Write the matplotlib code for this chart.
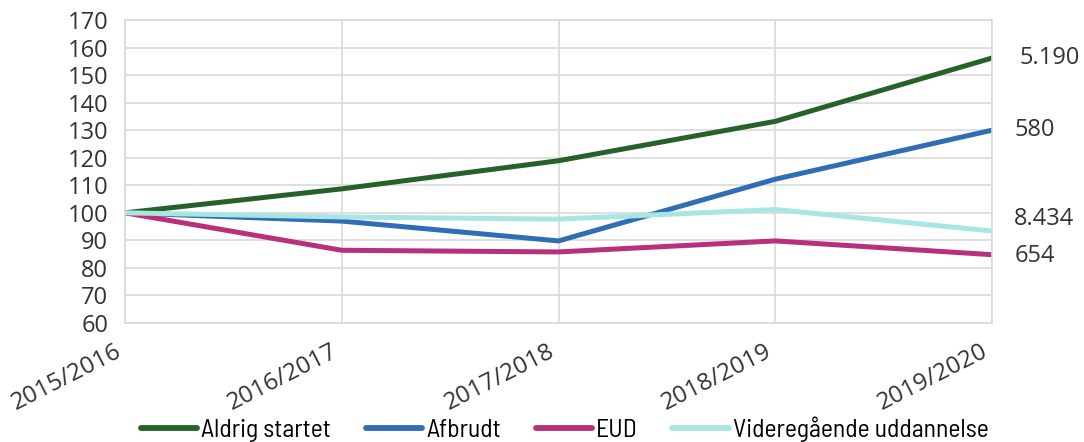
import matplotlib.pyplot as plt
from matplotlib.transforms import ScaledTranslation

years = ["2015/2016", "2016/2017", "2017/2018", "2018/2019", "2019/2020"]

aldrig = [100, 108.7, 118.9, 133.2, 156.2]
afbrudt = [100, 97.0, 89.8, 112.2, 130.0]
eud = [100, 86.4, 85.8, 89.8, 84.8]
videre = [100, 98.5, 97.7, 101.2, 93.4]

series = [
    ("Aldrig startet", aldrig, "#256227", "5.190"),
    ("Afbrudt", afbrudt, "#2F6DB5", "580"),
    ("EUD", eud, "#B8307A", "654"),
    ("Videregående uddannelse", videre, "#A9E5E3", "8.434"),
]
# offsets (points) for the end-of-line totals
end_off = {"5.190": (20, 0), "580": (16.5, 0), "654": (16, -0.8), "8.434": (16, 8.6)}

narrow = ["Barlow Semi Condensed", "DejaVu Sans"]
plain = ["Open Sans", "DejaVu Sans"]

fig = plt.figure(figsize=(10.84, 4.42), dpi=100)
ax = fig.add_axes([125 / 1084, 1 - 323 / 442, (992 - 125) / 1084, (323 - 20) / 442])

x = list(range(len(years)))
for name, vals, col, endlab in series:
    ax.plot(x, vals, color=col, lw=3.6, label=name, solid_capstyle="round")
    ax.annotate(endlab, (x[-1], vals[-1]), xytext=end_off[endlab],
                textcoords="offset points", va="center", ha="left",
                fontsize=17, color="#333333", family=plain)

ax.set_xlim(0, 4)
ax.set_ylim(60, 170)
ax.set_yticks(range(60, 171, 10))
ax.set_xticks(x)
ax.set_xticklabels(years, rotation=27, ha="right", va="top",
                   fontsize=17.5, color="#333333", family=plain)
shift = ScaledTranslation(9 / 100, 0, fig.dpi_scale_trans)
for lab in ax.get_xticklabels():
    lab.set_transform(lab.get_transform() + shift)
ax.tick_params(axis="y", labelsize=17, labelcolor="#333333", length=0, pad=12)
ax.tick_params(axis="x", length=0, pad=12)
for lab in ax.get_yticklabels():
    lab.set_family(plain)
ax.grid(True, color="#d9d9d9", lw=1.2)
for s in ax.spines.values():
    s.set_color("#d9d9d9")
    s.set_linewidth(1.2)
ax.set_axisbelow(True)

leg = fig.legend(loc="center", bbox_to_anchor=(0.521, 1 - 429 / 442), ncol=4, frameon=False,
                 prop={"family": narrow, "size": 18.5},
                 handlelength=2.2, handletextpad=0.15, columnspacing=1.35)
for h in leg.get_lines():
    h.set_linewidth(4.2)

fig.savefig("out.png", dpi=100)
